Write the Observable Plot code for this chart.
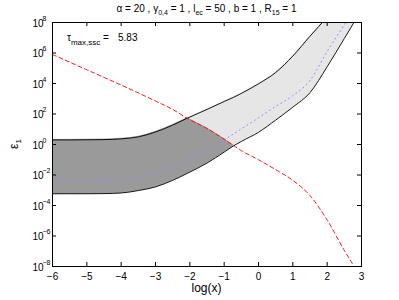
<!DOCTYPE html>
<html><head><meta charset="utf-8">
<script src="https://cdn.jsdelivr.net/npm/d3@7"></script>
<script src="https://cdn.jsdelivr.net/npm/@observablehq/plot@0.6"></script>
<style>body{margin:0;background:#fff} svg{display:block}</style>
</head><body><div id="chart"></div>
<script>
// log(x) grid
const xs       = [-6, -5.5, -5, -4.5, -4, -3.5, -3, -2.5, -2.08, -1.5, -1, -0.72, -0.5, 0, 0.5, 1, 1.5, 2, 2.5, 2.78, 3];
// log10 of epsilon_1 for each curve
const upperLog = [0.30, 0.30, 0.31, 0.32, 0.37, 0.50, 0.82, 1.27, 1.72, 2.30, 2.82, 3.10, 3.35, 3.98, 4.72, 5.80, 7.10, 8.35, 9.6, 10.3, 10.8];
const lowerLog = [-3.23, -3.23, -3.23, -3.22, -3.18, -3.02, -2.78, -2.35, -1.90, -1.22, -0.50, -0.08, 0.20, 0.80, 1.60, 2.45, 3.40, 5.10, 6.95, 8.00, 8.80];
const midLog   = [-2.38, -2.38, -2.38, -2.36, -2.30, -2.12, -1.87, -1.45, -0.98, -0.32, 0.30, 0.70, 1.02, 1.75, 2.50, 3.20, 4.20, 6.10, 7.85, 8.8, 9.5];
const redLog   = [5.90, 5.40, 4.90, 4.40, 3.90, 3.38, 2.85, 2.30, 1.72, 1.05, 0.35, -0.08, -0.40, -1.00, -1.65, -2.35, -3.35, -4.95, -6.95, -8.00, -9.00];
const xCrossUpper = -2.08;  // red meets upper curve
const xCrossLower = -0.72;  // red meets lower curve
const xTicks = [-6, -5, -4, -3, -2, -1, 0, 1, 2, 3];
const yTickExps = [-8, -6, -4, -2, 0, 2, 4, 6, 8];
const tauValue = "5.83";

const rows = xs.map((x, i) => ({x, upper: 10 ** upperLog[i], lower: 10 ** lowerLog[i], mid: 10 ** midLog[i], red: 10 ** redLog[i]}));
const seg = (a, b) => rows.filter(d => d.x >= a && d.x <= b);
const darkA = seg(-Infinity, xCrossUpper).map(d => ({x: d.x, y1: d.lower, y2: d.upper}));
const darkB = seg(xCrossUpper, xCrossLower).map(d => ({x: d.x, y1: d.lower, y2: d.red}));
const lightA = seg(xCrossUpper, xCrossLower).map(d => ({x: d.x, y1: d.red, y2: d.upper}));
const lightB = seg(xCrossLower, Infinity).map(d => ({x: d.x, y1: d.lower, y2: d.upper}));
const yTicks = yTickExps.map(e => 10 ** e);
const sup = e => (e < 0 ? "\u2212" + (-e) : String(e));

const W = 399, H = 300, mL = 52, mR = 38, mT = 22, mB = 34;
const pw = W - mL - mR, ph = H - mT - mB, tk = 4;
const font = "Liberation Sans, Arial, Helvetica, sans-serif";
const cv = "monotone-x";
const DARK = "#9a9a9a", LIGHT = "#e6e6e6";
const areaOpts = c => ({x: "x", y1: "y1", y2: "y2", fill: c, stroke: c, strokeWidth: 1, curve: cv, clip: true});

const svg = Plot.plot({
  width: W, height: H, marginLeft: mL, marginRight: mR, marginTop: mT, marginBottom: mB,
  style: {fontFamily: font, fontSize: "10px", background: "#fff", color: "#000"},
  x: {domain: [-6, 3]},
  y: {type: "log", domain: [1e-8, 1e8], axis: null},
  marks: [
    Plot.areaY(lightA, areaOpts(LIGHT)),
    Plot.areaY(lightB, areaOpts(LIGHT)),
    Plot.areaY(darkA, areaOpts(DARK)),
    Plot.areaY(darkB, areaOpts(DARK)),
    Plot.line(rows, {x: "x", y: "mid", stroke: "#8a8aff", strokeWidth: 1, strokeDasharray: "1,3.5", curve: cv, clip: true}),
    Plot.line(rows, {x: "x", y: "upper", stroke: "#000", strokeWidth: 0.9, curve: cv, clip: true}),
    Plot.line(rows, {x: "x", y: "lower", stroke: "#000", strokeWidth: 0.9, curve: cv, clip: true}),
    Plot.line(rows, {x: "x", y: "red", stroke: "#ff0000", strokeWidth: 0.9, strokeDasharray: "4,3", curve: cv, clip: true}),
    Plot.frame({stroke: "#000"}),
    Plot.tickY(yTicks, {y: d => d, insetRight: pw - tk, stroke: "#000"}),
    Plot.tickY(yTicks, {y: d => d, insetLeft: pw - tk, stroke: "#000"}),
    Plot.tickX(xTicks, {x: d => d, insetTop: ph - tk, stroke: "#000"}),
    Plot.tickX(xTicks, {x: d => d, insetBottom: ph - tk, stroke: "#000"}),
    Plot.axisX(xTicks, {tickSize: 0, tickPadding: 6, fontSize: 10, label: null}),
    Plot.text(yTicks, {y: d => d, text: () => "10", frameAnchor: "left", textAnchor: "start", dx: -20, dy: 1, fontSize: 10}),
    Plot.text(yTickExps, {y: e => 10 ** e, text: e => sup(e), frameAnchor: "left", textAnchor: "start", dx: -10, dy: -4, fontSize: 7})
  ]
});

const s = d3.select(svg);
function rich(parent, parts, size) {
  for (const p of parts) {
    if (typeof p === "string") parent.append("tspan").attr("font-size", size).text(p);
    else parent.append("tspan").attr("font-size", p.size).attr("dy", p.dy).text(p.t);
  }
}
// title
const title = s.append("text").attr("x", mL + pw / 2).attr("y", 12).attr("text-anchor", "middle")
  .attr("font-family", font).attr("fill", "#000");
rich(title, [
  "\u03b1 = 20 , \u03b3", {t: "0,4", size: 7, dy: 3}, {t: " = 1 , l", size: 10, dy: -3},
  {t: "ec", size: 7, dy: 3}, {t: " = 50 , b = 1 , R", size: 10, dy: -3},
  {t: "15", size: 7, dy: 3}, {t: " = 1", size: 10, dy: -3}
], 10);
// annotation
const ann = s.append("text").attr("x", 67).attr("y", 41).attr("text-anchor", "start")
  .attr("font-family", font).attr("fill", "#000");
rich(ann, ["\u03c4", {t: "max,ssc", size: 8, dy: 4}, {t: " =", size: 10, dy: -4}], 10);
s.append("text").attr("x", 118).attr("y", 41).attr("text-anchor", "start").attr("font-family", font)
  .attr("font-size", 10).attr("fill", "#000").text(tauValue);
// x label
s.append("text").attr("x", mL + pw / 2).attr("y", 292).attr("text-anchor", "middle")
  .attr("font-family", font).attr("font-size", 12).attr("fill", "#000").text("log(x)");
// y label
const yl = s.append("text").attr("transform", `translate(18,${mT + ph / 2}) rotate(-90)`).attr("text-anchor", "middle")
  .attr("font-family", font).attr("fill", "#000");
rich(yl, ["\u03b5", {t: "1", size: 8, dy: 3}], 12);

document.getElementById("chart").appendChild(svg);
</script>
</body></html>
